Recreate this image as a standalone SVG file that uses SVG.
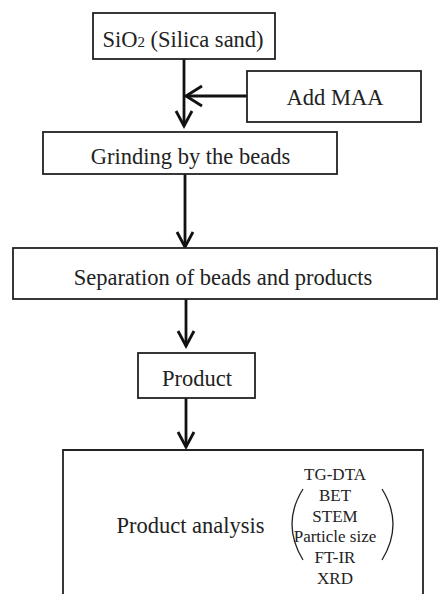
<svg xmlns="http://www.w3.org/2000/svg" width="438" height="594" viewBox="0 0 438 594">
<defs>
<style>
.box{fill:#fff;stroke:#222;stroke-width:1.8}
text{font-family:'Liberation Serif','DejaVu Serif',serif;fill:#222;text-anchor:middle}
.t{font-size:22.5px}
.s{font-size:17px}
.c{fill:none;stroke:#111;stroke-width:2.8}
.h{fill:none;stroke:#111;stroke-width:2.8;stroke-linejoin:miter}
</style>
</defs>
<rect width="438" height="594" fill="#fff"/>
<g id="connectors">
<line class="c" x1="184" y1="59" x2="184" y2="126"/>
<polyline class="h" points="176,111 184,126 192,111"/>
<line class="c" x1="247" y1="96" x2="186" y2="96"/>
<polyline class="h" points="202,86 186,96 202,106"/>
<line class="c" x1="185" y1="174" x2="185" y2="247"/>
<polyline class="h" points="177,232 185,247 193,232"/>
<line class="c" x1="186" y1="299" x2="186" y2="346"/>
<polyline class="h" points="178,331 186,346 194,331"/>
<line class="c" x1="186" y1="398" x2="186" y2="447"/>
<polyline class="h" points="178,432 186,447 194,432"/>
</g>
<g id="n1">
<rect class="box" x="93" y="13" width="182" height="46"/>
<text class="t" x="183" y="47">SiO<tspan font-size="15">2</tspan> (Silica sand)</text>
</g>
<g id="n2">
<rect class="box" x="247" y="71" width="174" height="51"/>
<text class="t" x="335" y="105">Add MAA</text>
</g>
<g id="n3">
<rect class="box" x="43" y="132" width="294" height="42"/>
<text class="t" x="190.5" y="164">Grinding by the beads</text>
</g>
<g id="n4">
<rect class="box" x="13" y="248" width="424" height="51"/>
<text class="t" x="223" y="285">Separation of beads and products</text>
</g>
<g id="n5">
<rect class="box" x="138" y="353" width="117" height="45"/>
<text class="t" x="197" y="386">Product</text>
</g>
<g id="n6">
<path class="box" d="M63,600 V450 H423 V600"/>
<text class="t" x="190.5" y="533">Product analysis</text>
<text class="s" x="335" y="480">TG-DTA</text>
<text class="s" x="335" y="501">BET</text>
<text class="s" x="335" y="522">STEM</text>
<text class="s" x="335" y="542">Particle size</text>
<text class="s" x="335" y="563">FT-IR</text>
<text class="s" x="335" y="584">XRD</text>
<path d="M303,489 Q281,524 303,560" fill="none" stroke="#222" stroke-width="1.3"/>
<path d="M382,489 Q404,524 382,560" fill="none" stroke="#222" stroke-width="1.3"/>
</g>
</svg>
